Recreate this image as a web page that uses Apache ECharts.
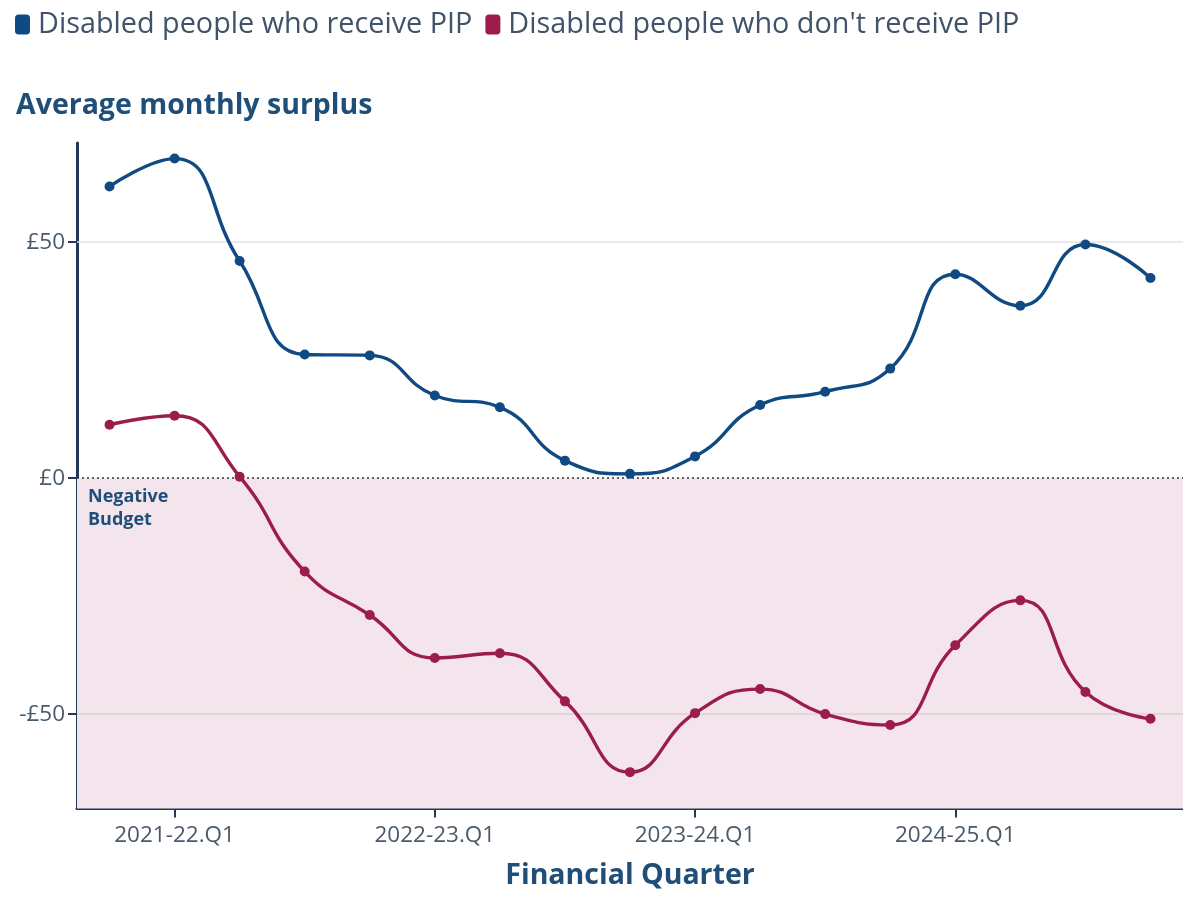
<!DOCTYPE html>
<html>
<head>
<meta charset="utf-8">
<script src="https://cdn.jsdelivr.net/npm/echarts@6/dist/echarts.min.js"></script>
<style>
html,body{margin:0;padding:0;background:#fff;}
#chart{width:1183px;height:897px;}
</style>
</head>
<body>
<div id="chart"></div>
<script>
var categories = ['2020-21.Q4','2021-22.Q1','2021-22.Q2','2021-22.Q3','2021-22.Q4',
  '2022-23.Q1','2022-23.Q2','2022-23.Q3','2022-23.Q4',
  '2023-24.Q1','2023-24.Q2','2023-24.Q3','2023-24.Q4',
  '2024-25.Q1','2024-25.Q2','2024-25.Q3','2024-25.Q4'];
var receivePIP = [61.8, 67.7, 46.0, 26.2, 26.0, 17.5, 15.0, 3.7, 0.9, 4.6, 15.5, 18.3, 23.2, 43.2, 36.5, 49.5, 42.4];
var noPIP = [11.3, 13.2, 0.3, -19.8, -29.0, -38.1, -37.1, -47.3, -62.3, -49.8, -44.7, -50.0, -52.3, -35.4, -25.9, -45.3, -51.0];
var yTicks = [-50, 0, 50];
var yMin = -70, yMax = 71;

var navy = '#1f4e79';
var axisCol = '#1e3a56';
var labelCol = '#4b5a6a';
var blue = '#0f4a82';
var red = '#9c1d4b';

function labelIdx(i){ return i % 4 === 1; }

var chart = echarts.init(document.getElementById('chart'));
chart.setOption({
  animation: false,
  textStyle: {fontFamily: 'Open Sans'},
  title: {
    text: 'Average monthly surplus',
    left: 11, top: 86,
    textStyle: {fontFamily: 'Open Sans', fontSize: 28.5, fontWeight: 'bold', color: navy}
  },
  legend: {
    left: 10, top: 5,
    icon: 'roundRect',
    itemWidth: 15, itemHeight: 20,
    itemGap: 13,
    textStyle: {fontFamily: 'Open Sans', fontSize: 28.8, color: '#40536a', padding: [0, 0, 0, 3]},
    data: ['Disabled people who receive PIP', "Disabled people who don't receive PIP"]
  },
  grid: {left: 77, right: 0, top: 143, bottom: 88.5, containLabel: false},
  graphic: [{
    type: 'text', left: 88, top: 485, z: 100, silent: true,
    style: {text: 'Negative\nBudget', font: 'bold 18px "Open Sans"', fill: navy, lineHeight: 23}
  }],
  xAxis: {
    type: 'category',
    data: categories,
    boundaryGap: true,
    name: 'Financial Quarter',
    nameLocation: 'middle',
    nameGap: 53,
    nameTextStyle: {fontFamily: 'Open Sans', fontSize: 28.5, fontWeight: 'bold', color: navy},
    axisLine: {onZero: false, lineStyle: {color: axisCol, width: 3}},
    axisTick: {show: true, alignWithLabel: true, interval: labelIdx, length: 9, lineStyle: {color: axisCol, width: 2}},
    axisLabel: {interval: labelIdx, margin: 16, fontSize: 22.5, color: labelCol, fontFamily: 'Open Sans'},
    splitLine: {show: false}
  },
  yAxis: {
    type: 'value',
    min: yMin, max: yMax,
    axisLine: {show: true, lineStyle: {color: axisCol, width: 3}},
    axisTick: {show: true, length: 9, customValues: yTicks, lineStyle: {color: axisCol, width: 2}},
    axisLabel: {
      customValues: yTicks, margin: 12, fontSize: 22.5, color: labelCol, fontFamily: 'Open Sans',
      formatter: function(v){ return (v < 0 ? '-£' : '£') + Math.abs(v); }
    },
    splitLine: {show: false}
  },
  series: [
    {
      name: 'Disabled people who receive PIP',
      type: 'line',
      data: receivePIP,
      smooth: 0.5,
      symbol: 'circle', symbolSize: 10,
      lineStyle: {color: blue, width: 3.4},
      itemStyle: {color: blue},
      z: 5,
      markArea: {
        silent: true,
        itemStyle: {color: '#f3e5eb'},
        label: {show: false},
        data: [[{yAxis: 0}, {yAxis: yMin}]]
      },
      markLine: {
        silent: true, symbol: 'none',
        label: {show: false},
        data: [
          {yAxis: 50, lineStyle: {color: '#e3e3e3', width: 1.6, type: 'solid'}},
          {yAxis: -50, lineStyle: {color: '#dccfd5', width: 1.6, type: 'solid'}},
          {yAxis: 0, lineStyle: {color: '#333', width: 1.6, type: [2, 3]}}
        ]
      }
    },
    {
      name: "Disabled people who don't receive PIP",
      type: 'line',
      data: noPIP,
      smooth: 0.5,
      symbol: 'circle', symbolSize: 10,
      lineStyle: {color: red, width: 3.4},
      itemStyle: {color: red},
      z: 5
    }
  ]
});
</script>
</body>
</html>
